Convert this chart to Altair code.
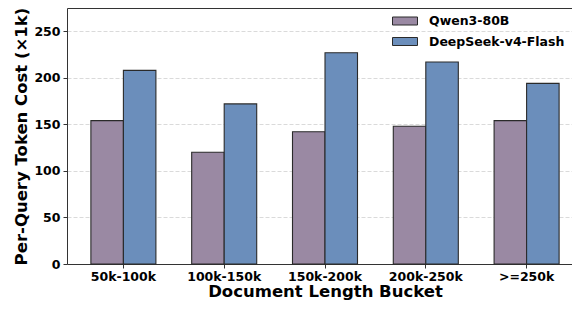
import altair as alt
import pandas as pd

buckets = ["50k-100k", "100k-150k", "150k-200k", "200k-250k", ">=250k"]
models = ["Qwen3-80B", "DeepSeek-v4-Flash"]
qwen = [154, 120, 142, 148, 154]
deepseek = [208, 172, 227, 217, 194]
colors = ["#9A89A3", "#6B8EBB"]

rows = []
for b, q, d in zip(buckets, qwen, deepseek):
    rows.append({"bucket": b, "model": models[0], "cost": q})
    rows.append({"bucket": b, "model": models[1], "cost": d})
df = pd.DataFrame(rows)

FONT = "DejaVu Sans"
xscale = alt.Scale(paddingInner=0.355, paddingOuter=0.237, range=[0, 516])

bars = alt.Chart(df).mark_bar(stroke="#2a2a2a", strokeWidth=1.1).encode(
    x=alt.X("bucket:N", sort=buckets, scale=xscale,
            axis=alt.Axis(title="Document Length Bucket", labelAngle=0,
                          grid=False, ticks=True, tickSize=4, labelPadding=2,
                          titlePadding=1)),
    xOffset=alt.XOffset("model:N", sort=models,
                        scale=alt.Scale(paddingInner=0, paddingOuter=0)),
    y=alt.Y("cost:Q", scale=alt.Scale(domain=[0, 275], nice=False),
            axis=alt.Axis(title="Per-Query Token Cost (×1k)",
                          values=[0, 50, 100, 150, 200, 250],
                          tickSize=4, labelPadding=3, titlePadding=4,
                          grid=True, gridDash=[4, 2], gridColor="#d0d0d0",
                          gridWidth=0.8)),
    color=alt.Color("model:N", sort=models,
                    scale=alt.Scale(domain=models, range=colors),
                    legend=alt.Legend(title=None, orient="none",
                                      legendX=325, legendY=0,
                                      symbolType="M-1,-0.32L1,-0.32L1,0.32L-1,0.32Z",
                                      symbolSize=625, symbolStrokeColor="#2a2a2a",
                                      symbolStrokeWidth=1, symbolOpacity=1,
                                      labelOffset=11, rowPadding=0.5,
                                      labelFontSize=12.5, labelFont=FONT,
                                      labelFontWeight="bold", labelColor="#000000")),
)

top_border = alt.Chart(df).mark_point(opacity=0).encode(
    x=alt.X("bucket:N", sort=buckets,
            axis=alt.Axis(orient="top", labels=False, ticks=False, title=None,
                          domain=True, grid=False)),
)

chart = alt.layer(bars, top_border).resolve_axis(x="independent").properties(
    width=505, height=256,
    autosize=alt.AutoSizeParams(type="none"),
    padding={"left": 59, "top": 0, "right": 0, "bottom": 37},
).configure_view(
    stroke=None
).configure_axis(
    labelFont=FONT, labelFontSize=12.5, labelFontWeight="bold", labelColor="#000000",
    titleFont=FONT, titleFontSize=16.5, titleFontWeight="bold", titleColor="#000000",
    domainColor="#333333", tickColor="#333333", domainWidth=1,
)

chart.save("out.html", embed_options={"renderer": "svg", "actions": False})
